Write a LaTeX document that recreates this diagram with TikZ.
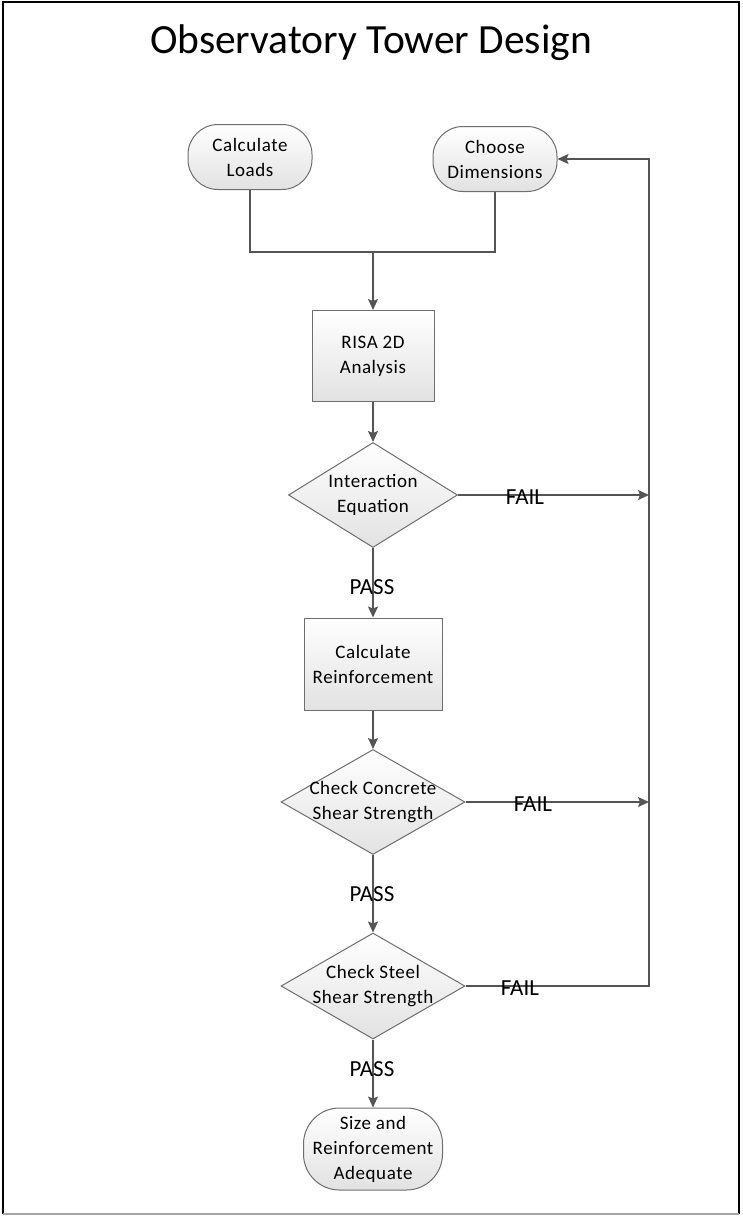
\documentclass[tikz,border=0pt]{standalone}
\usepackage{fontspec}
\setmainfont{Carlito}
\usetikzlibrary{shapes.geometric,arrows.meta,positioning}
\definecolor{edgegray}{HTML}{555555}
\definecolor{boxline}{HTML}{6E6E6E}
\definecolor{fillbot}{HTML}{E2E2E2}
\newcommand{\boxfont}{\fontsize{19}{25}\selectfont\addfontfeatures{LetterSpace=3}}
\tikzset{
  every node/.style={font=\boxfont, align=center},
  base/.style={draw=boxline, line width=1pt, top color=white, bottom color=fillbot, inner sep=0pt},
  terminal/.style={base, rectangle, rounded corners=30pt, minimum width=124pt, minimum height=65pt},
  process/.style={base, rectangle, minimum width=122pt, minimum height=91pt},
  decision/.style={base, diamond, minimum width=169pt, minimum height=105pt},
  caption/.style={inner sep=0pt},
  flow/.style={draw=edgegray, line width=1.3pt, -{Stealth[length=11pt,width=10pt,inset=2pt]}},
  link/.style={draw=edgegray, line width=1.3pt},
  tag/.style={font=\fontsize{23}{25}\selectfont, inner sep=0pt}
}
\begin{document}
\begin{tikzpicture}[x=1pt,y=-1pt]
  \useasboundingbox (0,0) rectangle (742,1216);
  % page frame
  \draw[black, line width=2.5pt] (3,1214) -- (3,2) -- (739,2) -- (739,1214);
  \draw[gray!70, line width=1.5pt] (3,1214) -- (739,1214);

  \node[font=\fontsize{41.5}{44}\selectfont, anchor=base] (title) at (371,53) {Observatory Tower Design};

  \node[terminal] (loads) at (250,157) {Calculate\\Loads};
  \node[terminal] (dims) at (495,159) {Choose\\Dimensions};
  \coordinate (join) at (373,252);
  \node[process] (risa) at (373,356) {RISA 2D\\Analysis};

  % decisions: shape drawn at a fixed size, text set on top of it
  \node[decision] (inter) at (373,495) {};
  \node[caption] (intertext) at (inter.center) {Interaction\\Equation};
  \node[process, minimum width=138pt, minimum height=92pt] (reinf) at (373,664) {Calculate\\Reinforcement};
  \node[decision, minimum width=184pt] (conc) at (373,802) {};
  \node[caption] (conctext) at (conc.center) {Check Concrete\\Shear Strength};
  \node[decision, minimum width=184pt, minimum height=106pt] (steel) at (373,986) {};
  \node[caption] (steeltext) at (steel.center) {Check Steel\\Shear Strength};
  \node[terminal, minimum width=139pt, minimum height=82pt, rounded corners=36pt] (done) at (373,1149) {Size and\\Reinforcement\\Adequate};

  \coordinate (loop) at (649,986);

  % main flow
  \draw[link] (loads.south) |- (join);
  \draw[link] (dims.south) |- (join);
  \draw[flow] (join) -- (risa.north);
  \draw[flow] (risa.south) -- (inter.north);
  \draw[flow] (inter.south) -- (reinf.north);
  \draw[flow] (reinf.south) -- (conc.north);
  \draw[flow] (conc.south) -- (steel.north);
  \draw[flow] (steel.south) -- (done.north);

  % failure branches back to the dimensions step
  \draw[flow] (inter.east) -- (inter.east -| loop);
  \draw[flow] (conc.east) -- (conc.east -| loop);
  \draw[flow] (steel.east) -- (loop) |- (dims.east);

  % branch labels
  \node[tag] (f1) at (525,497) {FAIL};
  \node[tag] (f2) at (533,804) {FAIL};
  \node[tag] (f3) at (520,988) {FAIL};
  \node[tag] (p1) at (372,587) {PASS};
  \node[tag] (p2) at (372,894) {PASS};
  \node[tag] (p3) at (372,1069) {PASS};
\end{tikzpicture}
\end{document}
